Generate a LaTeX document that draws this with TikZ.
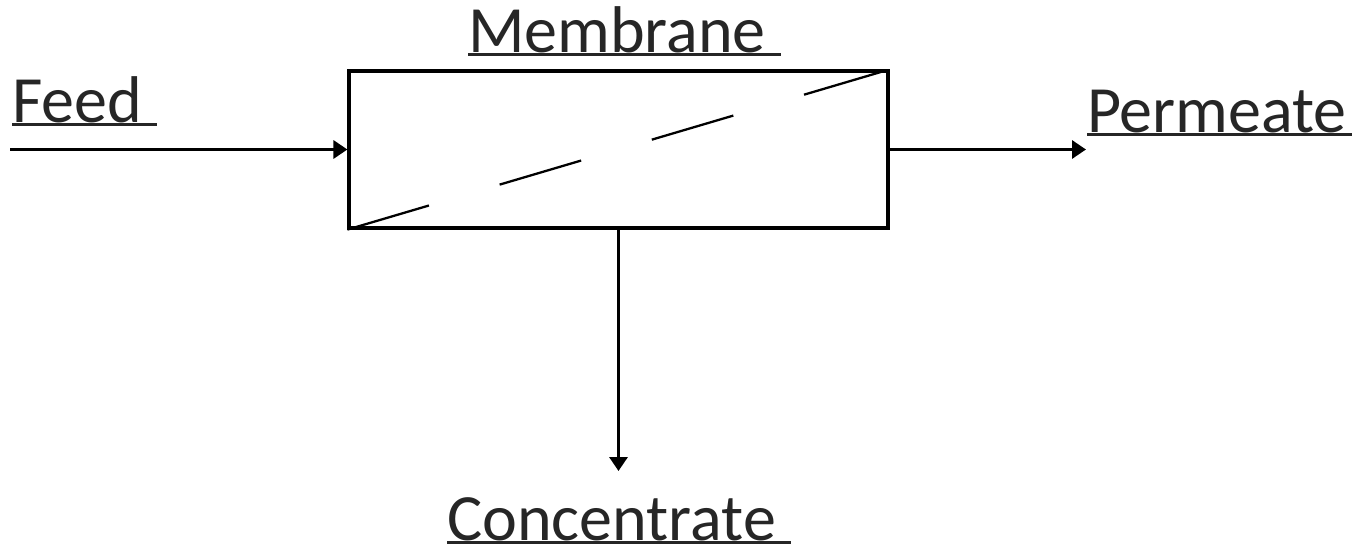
\documentclass[tikz,border=0pt]{standalone}
\usepackage{fontspec}
\setmainfont{Carlito}
\usepackage{tikz}
\usetikzlibrary{
	arrows.meta,
	calc}

\newcommand{\ulabel}[1]{\setbox0\hbox{#1}\rlap{\rule[-1.2pt]{\wd0}{0.9pt}}\box0}

\begin{document}
\begin{tikzpicture}[x=0.1mm,y=-0.1mm,every text node part/.style={align=left}]
  \tikzstyle{label}=[inner sep=0pt, outer sep=0pt,
    font=\fontsize{18.8}{22}\selectfont, text=black!85]
  \tikzstyle{unit}=[draw, line width=0.9pt, inner sep=0pt,
    minimum width=53.9mm, minimum height=15.7mm]
  \tikzstyle{flow}=[line width=0.9pt,
    -{Triangle[length=1.4mm,width=1.8mm]}]

  \useasboundingbox (0,0) rectangle (1352,548);

  \node [unit] (membrane) at (618.5,149.5) {};
  \draw [line width=0.65pt, dash pattern=on 8.5mm off 7.37mm]
    (membrane.south west) -- (membrane.north east);

  \node [label, anchor=base west] (membranelabel) at (468,52) {\ulabel{Membrane\ }};
  \node [label, anchor=base west] (feedlabel) at (12,122) {\ulabel{Feed\ }};
  \node [label, anchor=base west] (permeatelabel) at (1087,132) {\ulabel{Permeate\ \ }};
  \node [label, anchor=base west] (concentratelabel) at (447,540) {\ulabel{Concentrate\ }};

  \coordinate (feedin) at (10,149.5);
  \coordinate (permout) at (1086,149.5);
  \coordinate (concout) at (618.5,471);

  \draw [flow] (feedin) -- (membrane.west);
  \draw [flow] (membrane.east) -- (permout);
  \draw [flow] (membrane.south) -- (concout);
\end{tikzpicture}
\end{document}
